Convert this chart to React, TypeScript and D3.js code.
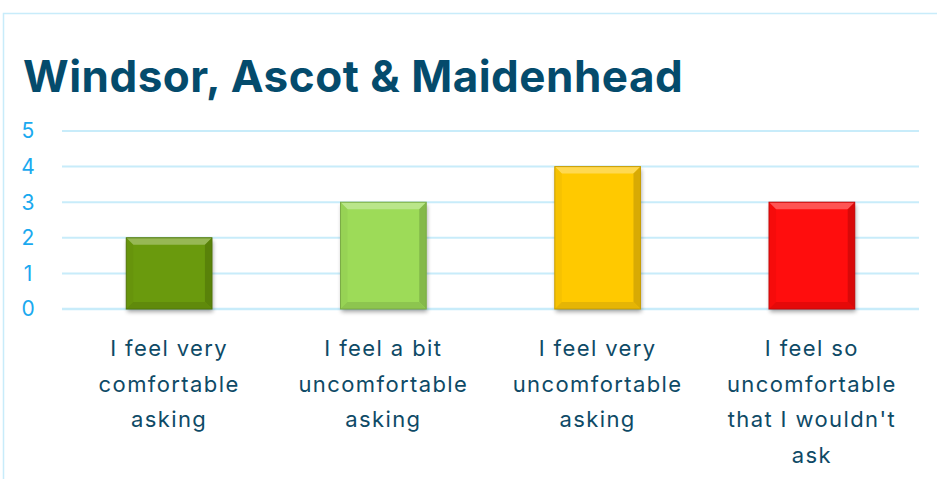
import React from "react";
import * as d3 from "d3";

const title = "Windsor, Ascot & Maidenhead";
const categories = [
  "I feel very comfortable asking",
  "I feel a bit uncomfortable asking",
  "I feel very uncomfortable asking",
  "I feel so uncomfortable that I wouldn't ask",
];
const categoryLines = [
  ["I feel very", "comfortable", "asking"],
  ["I feel a bit", "uncomfortable", "asking"],
  ["I feel very", "uncomfortable", "asking"],
  ["I feel so", "uncomfortable", "that I wouldn't", "ask"],
];
const values = [2, 3, 4, 3];
const barColors = ["#6b9a0c", "#9ddb58", "#ffc906", "#ff0a0a"];
const yTicks = [0, 1, 2, 3, 4, 5];

const W = 937;
const H = 479;
const margin = { top: 131, right: 18, bottom: 170, left: 62 };

const App: React.FC = () => {
  const x = d3
    .scaleBand<string>()
    .domain(categories)
    .range([margin.left, W - margin.right])
    .padding(0);
  const y = d3
    .scaleLinear()
    .domain([0, 5])
    .range([H - margin.bottom, margin.top]);

  const barW = x.step() * 0.4;
  const bevel = 7;

  return (
    <svg
      width={W}
      height={H}
      style={{ position: "absolute", left: 0, top: 0, background: "#fff" }}
    >
      <defs>
        <filter id="shadow" x="-20%" y="-20%" width="140%" height="140%">
          <feGaussianBlur in="SourceAlpha" stdDeviation="2" />
          <feOffset dx="1" dy="3" result="b" />
          <feComponentTransfer>
            <feFuncA type="linear" slope="0.35" />
          </feComponentTransfer>
          <feMerge>
            <feMergeNode />
            <feMergeNode in="SourceGraphic" />
          </feMerge>
        </filter>
      </defs>

      {/* frame */}
      <path d={`M3.5,${H} V13.5 H${W}`} fill="none" stroke="#c8ecfa" strokeWidth={1.5} />

      <text
        x={23}
        y={92}
        fontFamily="Inter, 'Open Sans', sans-serif"
        fontWeight={700}
        fontSize={44}
        fill="#044b6c"
        letterSpacing={0.5}
      >
        {title}
      </text>

      {/* grid */}
      {yTicks.map((t) => (
        <g key={t}>
          <line
            x1={margin.left}
            x2={W - margin.right}
            y1={y(t)}
            y2={y(t)}
            stroke="#c8ecfa"
            strokeWidth={t === 0 ? 2.5 : 2}
          />
          <text
            x={28}
            y={y(t)}
            dy="0.35em"
            textAnchor="middle"
            fontFamily="Inter, sans-serif"
            fontSize={21}
            fill="#1aa9ef"
          >
            {t}
          </text>
        </g>
      ))}

      {/* bars */}
      {categories.map((c, i) => {
        const cx = (x(c) ?? 0) + x.bandwidth() / 2;
        const x0 = cx - barW / 2;
        const x1 = cx + barW / 2;
        const y0 = y(values[i]);
        const y1 = y(0);
        const base = barColors[i];
        const light = d3.interpolateRgb(base, "#ffffff")(0.3);
        const dark = d3.color(base)!.darker(0.7).formatHex();
        const mid = d3.color(base)!.darker(0.3).formatHex();
        return (
          <g key={c}>
            <rect
              x={x0}
              y={y0}
              width={barW}
              height={y1 - y0}
              fill={base}
              filter="url(#shadow)"
            />
            <path
              d={`M${x0},${y0} H${x1} L${x1 - bevel},${y0 + bevel} H${x0 + bevel} Z`}
              fill={light}
            />
            <path
              d={`M${x1},${y0} V${y1} L${x1 - bevel},${y1 - bevel} V${y0 + bevel} Z`}
              fill={dark}
              opacity={0.7}
            />
            <path
              d={`M${x0},${y1} H${x1} L${x1 - bevel},${y1 - bevel} H${x0 + bevel} Z`}
              fill={mid}
            />
            <path
              d={`M${x0},${y0} V${y1} L${x0 + bevel},${y1 - bevel} V${y0 + bevel} Z`}
              fill={mid}
              opacity={0.35}
            />
            <rect
              x={x0}
              y={y0}
              width={barW}
              height={y1 - y0}
              fill="none"
              stroke={dark}
              strokeWidth={1}
            />
          </g>
        );
      })}

      {/* category labels */}
      {categories.map((c, i) => {
        const cx = (x(c) ?? 0) + x.bandwidth() / 2;
        return (
          <text
            key={c}
            x={cx}
            y={356}
            textAnchor="middle"
            fontFamily="Inter, sans-serif"
            fontSize={22}
            letterSpacing={1.4}
            fill="#0e4a66"
          >
            {categoryLines[i].map((l, j) => (
              <tspan key={j} x={cx} y={356 + j * 35.5}>
                {l}
              </tspan>
            ))}
          </text>
        );
      })}
    </svg>
  );
};

export default App;
